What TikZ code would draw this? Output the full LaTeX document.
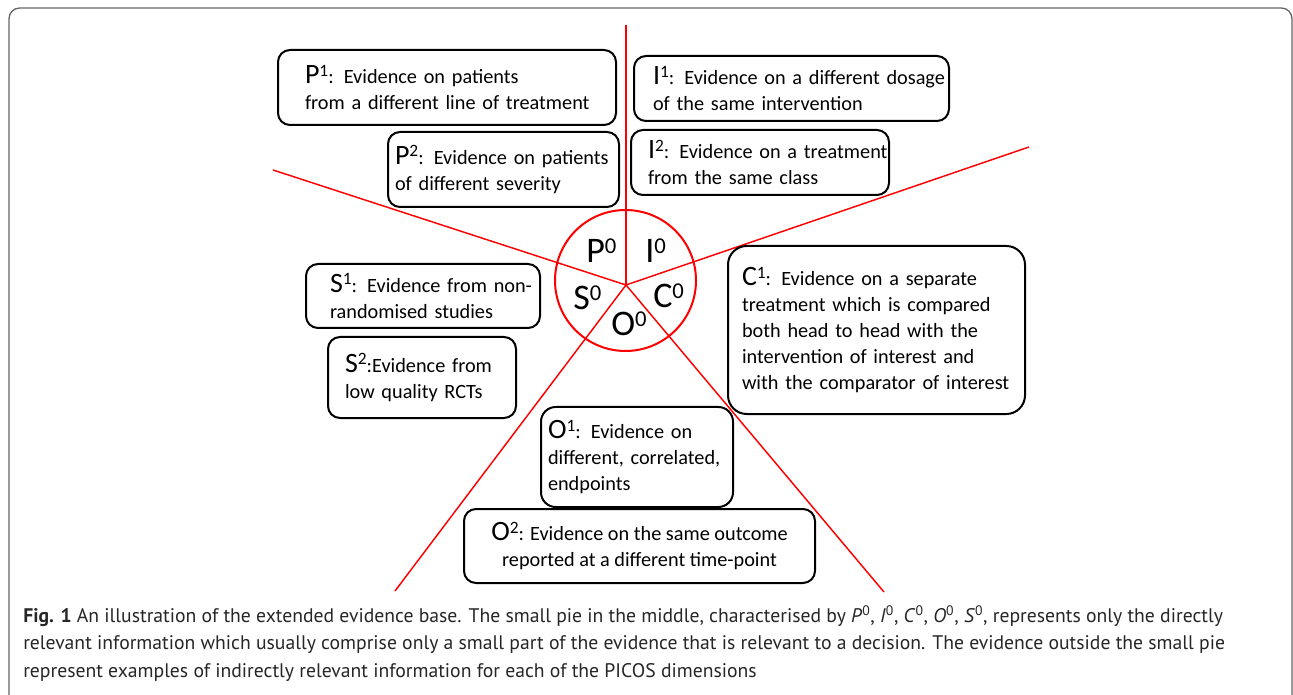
\documentclass[tikz,border=0pt]{standalone}
\usepackage{fontspec}
\setmainfont{Carlito}
\newfontfamily\capfont{PT Sans}
\newcommand\Lb[2]{{\fontsize{21}{21}\selectfont #1}\raisebox{5.5pt}{\fontsize{13}{13}\selectfont #2}}
\newcommand\Pl[2]{{\fontsize{27}{27}\selectfont #1\raisebox{7pt}{\fontsize{17}{17}\selectfont #2}}}
\newcommand\Cs[1]{\textit{#1}\textsuperscript{0}}
\begin{document}
\begin{tikzpicture}[x=0.75pt,y=-0.75pt,
  ebox/.style={draw=black, line width=1.5pt, rounded corners=9pt, fill=white,
    inner sep=0pt, anchor=north west, align=left,
    font=\fontsize{15.2}{19.5}\selectfont},
  redline/.style={draw=red, line width=1.1pt},
  pielab/.style={anchor=base west, inner sep=0pt},
  capline/.style={anchor=base west, inner sep=0pt, text=black!85,
    font=\capfont\fontsize{14.75}{16}\selectfont}]
\useasboundingbox (0,0) rectangle (1293,695);
\fill[white] (0,0) rectangle (1293,695);
\draw[black!60, line width=1pt, rounded corners=8pt] (9,695) -- (9,8) -- (1292,8) -- (1292,695);

% pie lines
\coordinate (ctr) at (626,285);
\coordinate (eN) at (626,25);
\coordinate (eUL) at (273,170);
\coordinate (eUR) at (1029,147);
\coordinate (eLL) at (395,591);
\coordinate (eLR) at (884,592);
\draw[redline] (ctr) -- (eN);
\draw[redline] (ctr) -- (eUL);
\draw[redline] (ctr) -- (eUR);
\draw[redline] (ctr) -- (eLL);
\draw[redline] (ctr) -- (eLR);
\node[circle, draw=red, line width=1.5pt, minimum size=105.75pt, inner sep=0pt] (pie) at (625.5,280.5) {};

% pie labels
\node[pielab] (p0) at (586,263) {\Pl{P}{0}};
\node[pielab] (i0) at (645,263) {\Pl{I}{0}};
\node[pielab] (s0) at (573,310) {\Pl{S}{0}};
\node[pielab] (c0) at (653,308) {\Pl{C}{0}};
\node[pielab] (o0) at (611,336) {\Pl{O}{0}};

% boxes
\node[ebox, minimum width=253.5pt, minimum height=56.25pt, text width=213pt] (p1) at (277,49)
  {\mbox{\Lb{P}{1}: Evidence on patients}\\\mbox{from a different line of treatment}};
\node[ebox, minimum width=173.25pt, minimum height=56.25pt, text width=162.75pt] (p2) at (387,131)
  {\mbox{\Lb{P}{2}: Evidence on patients}\\\mbox{of different severity}};
\node[ebox, minimum width=236.25pt, minimum height=48.75pt, text width=207.75pt] (i1) at (633,55)
  {\mbox{\Lb{I}{1}: Evidence on a different dosage}\\\mbox{of the same intervention}};
\node[ebox, minimum width=193.5pt, minimum height=48.75pt, text width=168pt] (i2) at (630,129)
  {\mbox{\Lb{I}{2}: Evidence on a treatment}\\\mbox{from the same class}};
\node[ebox, minimum width=175.5pt, minimum height=48pt, text width=139.5pt] (s1) at (305,263)
  {\mbox{\Lb{S}{1}: Evidence from non-}\\\mbox{randomised studies}};
\node[ebox, minimum width=141pt, minimum height=60.75pt, text width=115.5pt] (s2) at (327,336)
  {\mbox{\Lb{S}{2}:Evidence from}\\\mbox{low quality RCTs}};
\node[ebox, rounded corners=14pt, minimum width=222.75pt, minimum height=126pt, text width=201.75pt] (c1) at (727,245)
  {\mbox{\Lb{C}{1}: Evidence on a separate}\\\mbox{treatment which is compared}\\\mbox{both head to head with the}\\\mbox{intervention of interest and}\\\mbox{with the comparator of interest}};
\node[ebox, rounded corners=11pt, minimum width=144pt, minimum height=75pt, text width=133.5pt] (o1) at (540,406)
  {\mbox{\Lb{O}{1}: Evidence on}\\\mbox{different, correlated,}\\\mbox{endpoints}};
\node[ebox, align=center, minimum width=263.25pt, minimum height=55.5pt] (o2) at (463,508)
  {\Lb{O}{2}: Evidence on the same outcome\\reported at a different time-point};

% caption
\node[capline] (cap1) at (23,622) {\textbf{Fig. 1} An illustration of the extended evidence base. The small pie in the middle, characterised by \Cs{P}, \Cs{I}, \Cs{C}, \Cs{O}, \Cs{S}, represents only the directly};
\node[capline] (cap2) at (23,649.5) {relevant information which usually comprise only a small part of the evidence that is relevant to a decision. The evidence outside the small pie};
\node[capline] (cap3) at (23,677) {represent examples of indirectly relevant information for each of the PICOS dimensions};
\end{tikzpicture}
\end{document}
